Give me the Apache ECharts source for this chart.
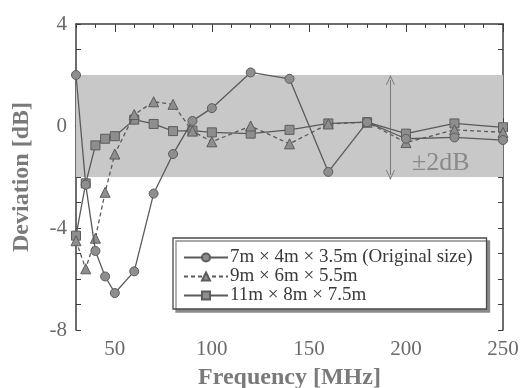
<!DOCTYPE html>
<html>
<head>
<meta charset="utf-8">
<script src="https://cdn.jsdelivr.net/npm/echarts@6/dist/echarts.min.js"></script>
<style>
  html, body { margin: 0; padding: 0; background: #fff; }
  #chart { width: 523px; height: 388px; }
</style>
</head>
<body>
<div id="chart"></div>
<script>
// Measurement frequencies (MHz)
const frequencies = [30, 35, 40, 45, 50, 60, 70, 80, 90, 100, 120, 140, 160, 180, 200, 225, 250];

// Deviation (dB) for each room size
const roomOriginal = [2.0, -2.3, -4.9, -5.9, -6.55, -5.7, -2.65, -1.1, 0.2, 0.7, 2.1, 1.85, -1.8, 0.15, -0.5, -0.45, -0.55];
const roomMedium   = [-4.5, -5.6, -4.4, -2.6, -1.1, 0.45, 0.95, 0.85, -0.2, -0.62, 0.0, -0.7, 0.08, 0.15, -0.65, -0.15, -0.25];
const roomLarge    = [-4.3, -2.25, -0.76, -0.5, -0.4, 0.25, 0.08, -0.2, -0.18, -0.25, -0.3, -0.15, 0.1, 0.15, -0.3, 0.1, -0.05];

const seriesNames = [
  '7m × 4m × 3.5m (Original size)',
  '9m × 6m × 5.5m',
  '11m × 8m × 7.5m'
];

// Axis tick labels
const xTickLabels = [50, 100, 150, 200, 250];
const yTickLabels = [-8, -4, 0, 4];

// Tolerance band and annotation
const toleranceBand = [-2, 2];
const toleranceLabel = '±2dB';
const arrowFreq = 192;

const serif = '"Liberation Serif", "DejaVu Serif", serif';
const axisColor = '#3c3c3c';
const lineColor = '#5a5a5a';
const markerFill = '#8e8e8e';

function pairs(values) {
  return frequencies.map((f, i) => [f, values[i]]);
}

const chart = echarts.init(document.getElementById('chart'), null, { renderer: 'canvas' });

const baseX = { type: 'value', min: 30, max: 250, interval: 10, splitLine: { show: false } };
const baseY = { type: 'value', min: -8, max: 4, interval: 1, splitLine: { show: false } };

const option = {
  backgroundColor: '#ffffff',
  animation: false,
  grid: { left: 76, right: 20, top: 24, bottom: 58, containLabel: false, outerBoundsMode: 'none' },
  xAxis: [
    Object.assign({}, baseX, {
      position: 'bottom',
      axisLine: { show: true, lineStyle: { color: axisColor, width: 1.5 } },
      axisTick: { show: true, inside: true, length: 4, lineStyle: { color: axisColor } },
      axisLabel: {
        show: true, customValues: xTickLabels, margin: 9,
        fontFamily: serif, fontSize: 21, color: '#6a6a6a'
      },
      name: 'Frequency [MHz]',
      nameLocation: 'middle',
      nameGap: 36,
      nameTextStyle: { fontFamily: serif, fontSize: 24, fontWeight: 'bold', color: '#7a7a7a' }
    }),
    Object.assign({}, baseX, {
      position: 'bottom',
      axisLine: { show: false },
      axisTick: { show: true, inside: true, length: 8, customValues: xTickLabels, lineStyle: { color: axisColor } },
      axisLabel: { show: false }
    }),
    Object.assign({}, baseX, {
      position: 'top',
      axisLine: { show: true, lineStyle: { color: axisColor, width: 1.5 } },
      axisTick: { show: true, inside: true, length: 4, lineStyle: { color: axisColor } },
      axisLabel: { show: false }
    }),
    Object.assign({}, baseX, {
      position: 'top',
      axisLine: { show: false },
      axisTick: { show: true, inside: true, length: 8, customValues: xTickLabels, lineStyle: { color: axisColor } },
      axisLabel: { show: false }
    })
  ],
  yAxis: [
    Object.assign({}, baseY, {
      position: 'left',
      axisLine: { show: true, lineStyle: { color: axisColor, width: 1.5 } },
      axisTick: { show: true, inside: true, length: 5, lineStyle: { color: axisColor } },
      axisLabel: {
        show: true, customValues: yTickLabels, margin: 9,
        fontFamily: serif, fontSize: 21, color: '#6a6a6a'
      },
      name: 'Deviation [dB]',
      nameLocation: 'middle',
      nameGap: 42,
      nameRotate: 90,
      nameTextStyle: { fontFamily: serif, fontSize: 24, fontWeight: 'bold', color: '#7a7a7a' }
    }),
    Object.assign({}, baseY, {
      position: 'right',
      axisLine: { show: true, lineStyle: { color: axisColor, width: 1.5 } },
      axisTick: { show: true, inside: true, length: 5, lineStyle: { color: axisColor } },
      axisLabel: { show: false }
    })
  ],
  legend: {
    show: true,
    orient: 'vertical',
    left: 173,
    top: 238,
    padding: [10, 14, 4, 10],
    itemGap: 0,
    itemWidth: 44,
    itemHeight: 10,
    backgroundColor: '#ffffff',
    borderColor: '#4a4a4a',
    borderWidth: 1.3,
    shadowColor: '#8a8a8a',
    shadowBlur: 0,
    shadowOffsetX: 3,
    shadowOffsetY: 3,
    textStyle: { fontFamily: serif, fontSize: 19, color: '#3a3a3a', padding: [0, 0, 0, -3] },
    data: seriesNames
  },
  series: [
    {
      name: seriesNames[0],
      type: 'line',
      data: pairs(roomOriginal),
      symbol: 'circle',
      symbolSize: 9,
      lineStyle: { color: lineColor, width: 1.3 },
      itemStyle: { color: markerFill, borderColor: '#5c5c5c', borderWidth: 1 },
      z: 5,
      markArea: {
        silent: true,
        itemStyle: { color: '#c8c8c8' },
        data: [[{ yAxis: toleranceBand[0] }, { yAxis: toleranceBand[1] }]]
      },
      markLine: {
        silent: true,
        symbol: ['path://M0,10 L5,0 L10,10 L9,10 L5,2.2 L1,10 Z', 'path://M0,10 L5,0 L10,10 L9,10 L5,2.2 L1,10 Z'],
        symbolSize: [9, 10],
        lineStyle: { color: '#777', width: 1, type: 'solid' },
        label: { show: false },
        data: [[{ coord: [arrowFreq, 1.8] }, { coord: [arrowFreq, -1.92] }]]
      },
      markPoint: {
        silent: true,
        symbol: 'circle',
        symbolSize: 1,
        itemStyle: { color: 'transparent' },
        label: {
          show: true, position: 'inside', formatter: toleranceLabel,
          fontFamily: serif, fontSize: 26, color: '#8a8a8a'
        },
        data: [{ coord: [218, -1.45] }]
      }
    },
    {
      name: seriesNames[1],
      type: 'line',
      data: pairs(roomMedium),
      symbol: 'triangle',
      symbolSize: 10,
      lineStyle: { color: lineColor, width: 1.3, type: [4, 3] },
      itemStyle: { color: markerFill, borderColor: '#5c5c5c', borderWidth: 1 },
      z: 4
    },
    {
      name: seriesNames[2],
      type: 'line',
      data: pairs(roomLarge),
      symbol: 'rect',
      symbolSize: 9,
      lineStyle: { color: lineColor, width: 1.3 },
      itemStyle: { color: markerFill, borderColor: '#5c5c5c', borderWidth: 1 },
      z: 3
    }
  ]
};

chart.setOption(option);
</script>
</body>
</html>
